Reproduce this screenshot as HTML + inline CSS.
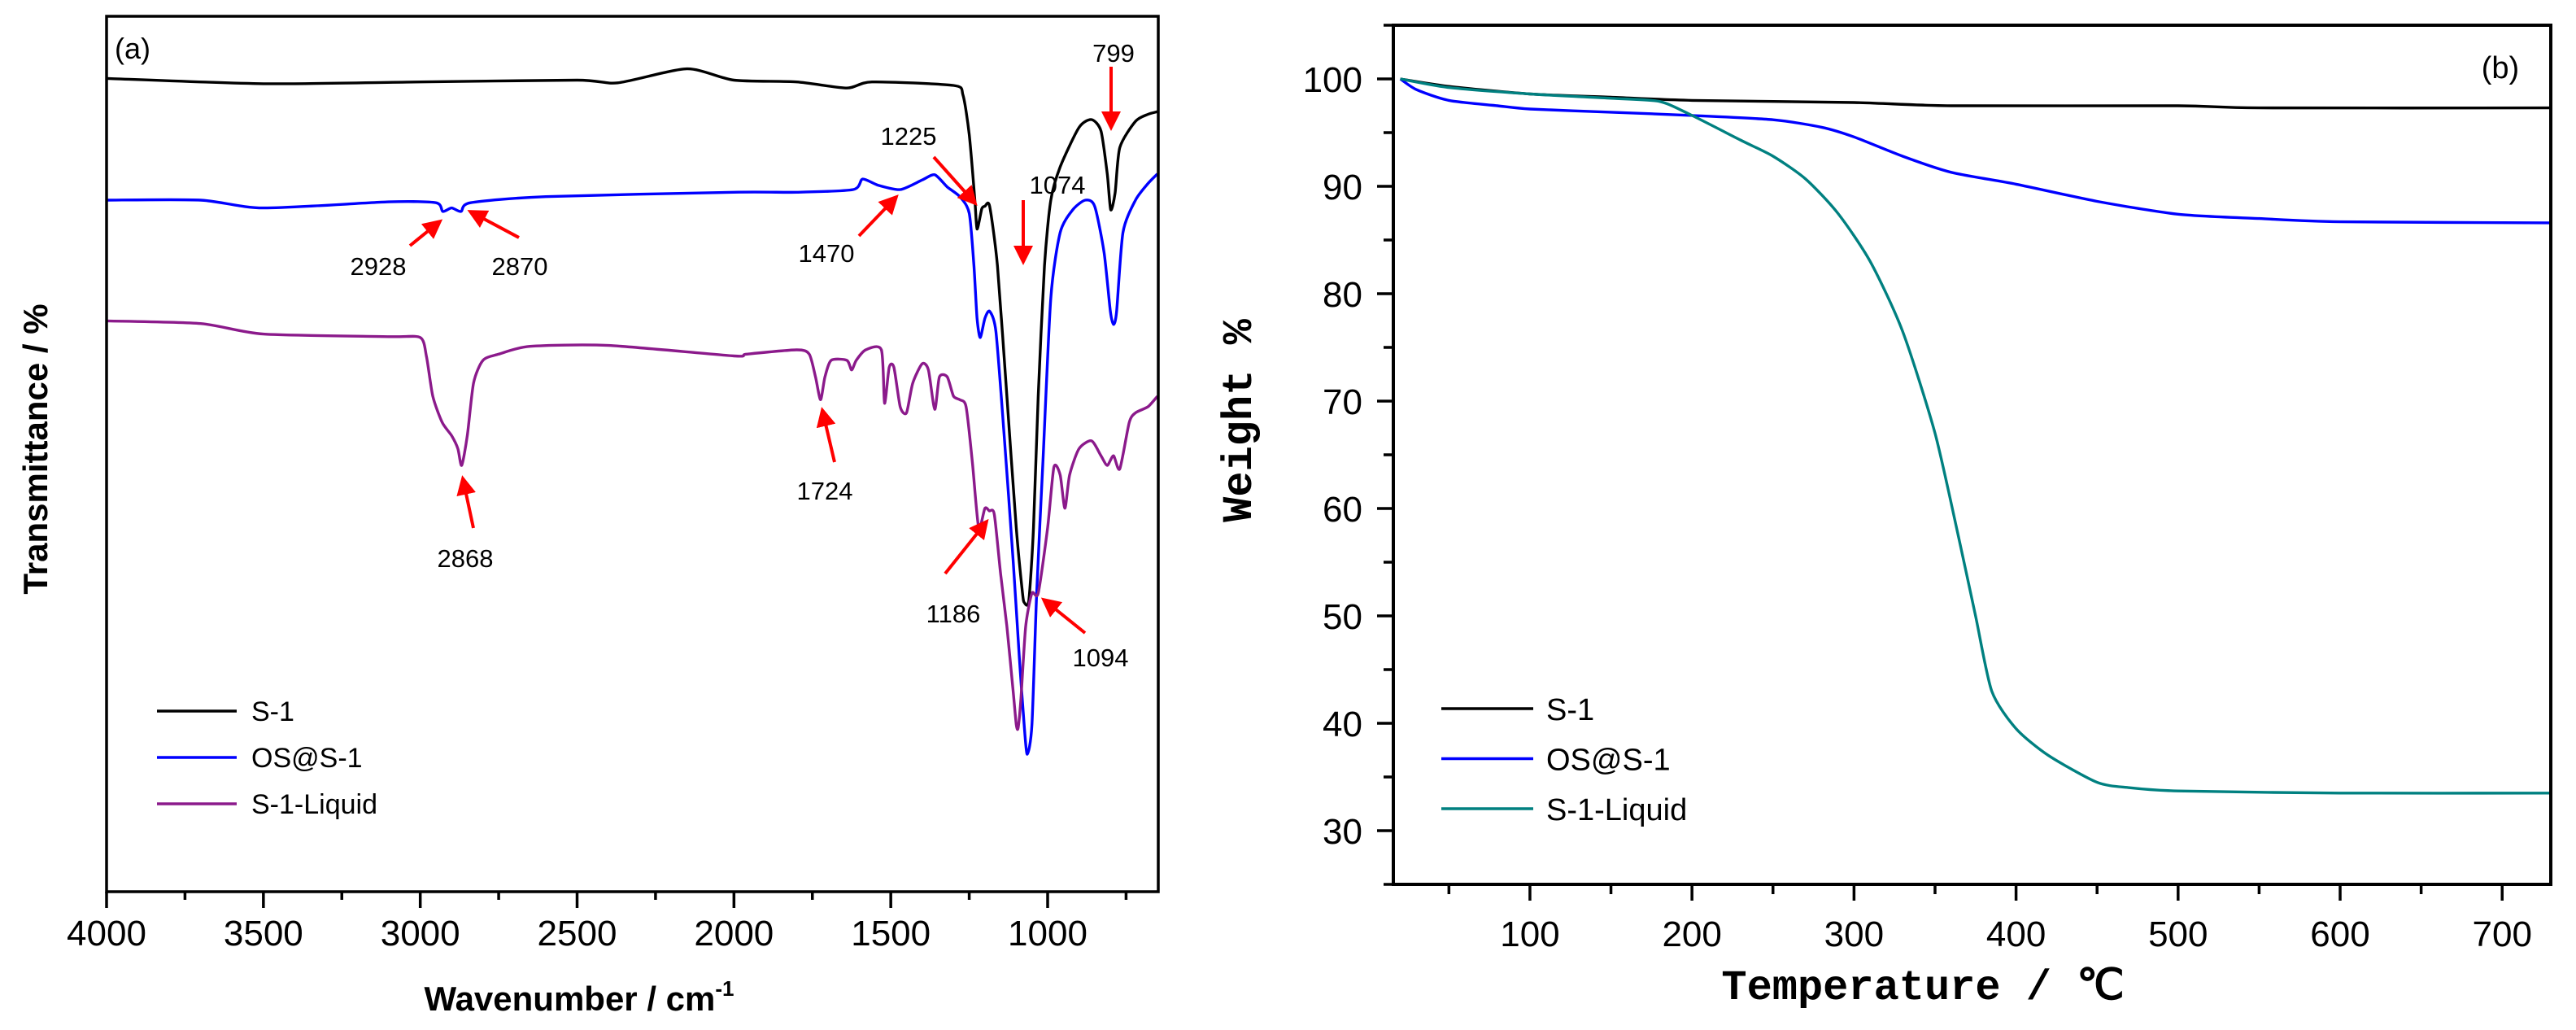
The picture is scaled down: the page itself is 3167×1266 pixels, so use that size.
<!DOCTYPE html>
<html><head><meta charset="utf-8">
<style>
html,body{margin:0;padding:0;background:#fff;}
svg{display:block;}
</style></head>
<body>
<svg id="fig" width="3167" height="1266" viewBox="0 0 3167 1266" xmlns="http://www.w3.org/2000/svg" font-family="Liberation Sans, sans-serif">
  <g id="panelA"></g>
  <g id="panelB"></g>
</svg>
<script>
// ---------- Panel (a) FTIR data ----------
const ftirS1X = [4000,3500,3000,2500,2370,2150,2000,1800,1640,1560,1300,1270,1250,1232,1225,1210,1200,1185,1160,1130,1100,1080,1074,1060,1045,1030,1010,990,960,900,860,830,810,799,785,770,720,680,650];
const ftirS1Y = [92.9,92.3,92.5,92.7,92.4,94.0,92.7,92.5,91.8,92.5,92.1,91.0,86.5,79.0,75.7,78.0,78.3,78.3,71.5,56.6,41.6,34.1,33.0,33.3,41.6,56.6,71.5,79.0,82.8,87.3,88.2,86.9,82.0,77.9,79.8,85.0,88.0,88.8,89.1];
const ftirOSX = [4000,3700,3500,3100,2950,2928,2900,2870,2840,2600,2000,1800,1620,1590,1540,1470,1400,1360,1320,1280,1250,1235,1225,1215,1200,1185,1165,1140,1110,1090,1075,1065,1050,1035,1015,990,960,920,880,850,820,800,790,780,760,720,680,650];
const ftirOSY = [79.0,79.0,78.1,78.8,78.7,77.7,78.1,77.7,78.7,79.4,79.9,79.9,80.2,81.4,80.7,80.2,81.3,81.9,80.5,79.4,77.5,71.5,65.5,63.3,65.5,66.3,64.0,52.8,37.8,26.6,19.1,15.7,19.1,34.1,49.1,67.8,75.3,77.9,79.0,78.3,73.0,66.3,64.8,66.3,75.3,79.0,80.9,82.0];
const ftirLqX = [4000,3700,3500,3100,3000,2980,2960,2930,2900,2880,2868,2850,2830,2800,2750,2650,2400,2000,1960,1800,1760,1740,1724,1710,1690,1640,1625,1610,1580,1530,1520,1505,1490,1470,1450,1430,1400,1380,1360,1345,1320,1300,1280,1260,1240,1220,1200,1186,1170,1150,1130,1110,1100,1094,1085,1070,1050,1030,1000,980,960,945,930,900,860,830,810,790,770,740,720,680,650];
const ftirLqY = [65.2,64.9,63.7,63.4,63.3,61.1,56.6,53.6,52.1,50.6,48.7,52.1,58.1,60.7,61.4,62.3,62.4,61.2,61.4,61.9,61.4,58.8,56.2,58.8,60.7,60.7,59.6,60.7,61.9,61.9,55.8,59.9,59.9,55.4,54.7,58.1,60.3,59.6,55.1,58.8,58.8,56.6,56.2,55.4,49.1,41.6,43.8,43.5,43.1,36.3,30.3,22.9,19.1,18.7,22.1,30.3,34.1,34.1,41.6,48.5,47.6,43.8,47.6,50.6,51.5,49.8,48.7,49.8,48.3,53.6,54.7,55.4,56.6];
const ftirXTicks = [4000,3500,3000,2500,2000,1500,1000];
const ftirXMinor = [3750,3250,2750,2250,1750,1250,750];
const ftirAnnot = ["799","1225","1074","1470","2928","2870","2868","1724","1186","1094"];

// ---------- Panel (b) TGA data ----------
const tgaS1X = [20,50,100,150,200,300,360,500,550,730];
const tgaS1Y = [100,99.3,98.6,98.3,98.0,97.8,97.5,97.5,97.3,97.3];
const tgaOSX = [20,30,50,80,100,150,200,250,280,300,330,360,400,450,500,550,600,730];
const tgaOSY = [100,99.0,98.0,97.5,97.2,96.9,96.6,96.2,95.5,94.6,92.8,91.3,90.2,88.6,87.4,87.0,86.7,86.6];
const tgaLqX = [20,50,100,150,180,200,230,250,270,290,310,330,350,365,375,385,400,420,450,470,500,600,730];
const tgaLqY = [100,99.2,98.6,98.2,97.9,96.6,94.3,92.8,90.7,87.5,83,76.5,67,57,50,43,39.5,37,34.5,34,33.7,33.5,33.5];
const tgaXTicks = [100,200,300,400,500,600,700];
const tgaXMinor = [50,150,250,350,450,550,650];
const tgaYTicks = [30,40,50,60,70,80,90,100];
const tgaYMinor = [25,35,45,55,65,75,85,95,105];

const NS = "http://www.w3.org/2000/svg";
function el(parent, tag, attrs, txt){
  const e = document.createElementNS(NS, tag);
  for (const k in attrs) e.setAttribute(k, attrs[k]);
  if (txt !== undefined) e.textContent = txt;
  parent.appendChild(e);
  return e;
}
function poly(parent, xs, ys, fx, fy, color, name){
  const P = xs.map((x,i)=>[fx(x), fy(ys[i])]);
  let d = "M" + P[0][0].toFixed(1) + "," + P[0][1].toFixed(1);
  for (let i=0;i<P.length-1;i++){
    const p0 = P[Math.max(i-1,0)], p1 = P[i], p2 = P[i+1], p3 = P[Math.min(i+2,P.length-1)];
    const t = 0.12;
    const c1 = [p1[0]+(p2[0]-p0[0])*t, p1[1]+(p2[1]-p0[1])*t];
    const c2 = [p2[0]-(p3[0]-p1[0])*t, p2[1]-(p3[1]-p1[1])*t];
    d += "C"+c1[0].toFixed(1)+","+c1[1].toFixed(1)+" "+c2[0].toFixed(1)+","+c2[1].toFixed(1)+" "+p2[0].toFixed(1)+","+p2[1].toFixed(1);
  }
  const p = el(parent, "path", {d:d, fill:"none", stroke:color, "stroke-width":3.4, "stroke-linejoin":"round"});
  
  
  return p;
}

// ===== Panel A =====
const A = document.getElementById("panelA");
const aL=131, aR=1424, aT=20, aB=1096;
const ax = w => aL + (4000 - w) * (1288 - aL) / 3000;
const ay = t => aB - t * (aB - aT) / 100;

poly(A, ftirS1X, ftirS1Y, ax, ay, "#000", "s1-ftir-line");
poly(A, ftirOSX, ftirOSY, ax, ay, "#0000ff", "os-s1-ftir-line");
poly(A, ftirLqX, ftirLqY, ax, ay, "#8b1a8b", "s1-liquid-ftir-line");

let fr = el(A, "rect", {x:aL, y:aT, width:aR-aL, height:aB-aT, fill:"none", stroke:"#000", "stroke-width":3.5});



ftirXTicks.forEach(v=>{
  const x = ax(v);
  el(A,"line",{x1:x,y1:aB,x2:x,y2:aB+20,stroke:"#000","stroke-width":3.5});
  const t = el(A,"text",{x:x,y:1162,"font-size":44,"text-anchor":"middle"}, String(v));
  
  
});
ftirXMinor.forEach(v=>{
  const x = ax(v);
  el(A,"line",{x1:x,y1:aB,x2:x,y2:aB+10,stroke:"#000","stroke-width":3.5});
});

const annPos = [
  [1369,76, 1366,82,1366,157],
  [1117,178, 1148,193,1199,250],
  [1300,238, 1258,246,1258,322],
  [1016,322, 1056,290,1102,242],
  [465,338, 504,302,541,272],
  [639,338, 638,292,578,260],
  [572,697, 582,649,569,588],
  [1014,614, 1026,568,1011,504],
  [1172,765, 1162,705,1213,641],
  [1353,819, 1334,778,1283,737]
];
const defs = el(document.getElementById("fig"), "defs", {});
const mk = el(defs, "marker", {id:"ah", markerWidth:6, markerHeight:6, refX:5, refY:3, orient:"auto", markerUnits:"strokeWidth"});
el(mk, "path", {d:"M0,0 L6,3 L0,6 Z", fill:"#ff0000"});
ftirAnnot.forEach((lab,i)=>{
  const p = annPos[i];
  const t = el(A,"text",{x:p[0],y:p[1],"font-size":31,"text-anchor":"middle"}, lab);
  
  
  const l = el(A,"line",{x1:p[2],y1:p[3],x2:p[4],y2:p[5],stroke:"#ff0000","stroke-width":4,"marker-end":"url(#ah)"});
  
  
});

let ta = el(A,"text",{x:141,y:72,"font-size":36}, "(a)");



const legA = [["S-1","#000"],["OS@S-1","#0000ff"],["S-1-Liquid","#8b1a8b"]];
legA.forEach((e,i)=>{
  const y = 874 + i*57;
  const g = el(A,"g",{});
  
  
  el(g,"line",{x1:193,y1:y,x2:291,y2:y,stroke:e[1],"stroke-width":3.5});
  el(g,"text",{x:309,y:y+12,"font-size":34}, e[0]);
});

let xta = el(A,"text",{x:712,y:1242,"font-size":42,"font-weight":"bold","text-anchor":"middle"});


xta.innerHTML = 'Wavenumber / cm<tspan dy="-18" font-size="26">-1</tspan>';
let yta = el(A,"text",{x:0,y:0,"font-size":42,"font-weight":"bold","text-anchor":"middle",transform:"translate(58,552) rotate(-90)"}, "Transmittance / %");



// ===== Panel B =====
const B = document.getElementById("panelB");
const bL=1713, bR=3136, bT=31, bB=1087;
const bx = t => bL + (t - 15.7) * (bR - bL) / (730 - 15.7);
const by = w => bB - (w - 25) * (bB - bT) / 80;

poly(B, tgaS1X, tgaS1Y, bx, by, "#000", "s1-tga-line");
poly(B, tgaOSX, tgaOSY, bx, by, "#0000ff", "os-s1-tga-line");
poly(B, tgaLqX, tgaLqY, bx, by, "#008080", "s1-liquid-tga-line");

let frb = el(B, "rect", {x:bL, y:bT, width:bR-bL, height:bB-bT, fill:"none", stroke:"#000", "stroke-width":4});



tgaXTicks.forEach(v=>{
  const x = bx(v);
  el(B,"line",{x1:x,y1:bB,x2:x,y2:bB+20,stroke:"#000","stroke-width":3.5});
  const t = el(B,"text",{x:x,y:1163,"font-size":44,"text-anchor":"middle"}, String(v));
  
  
});
tgaXMinor.forEach(v=>{
  const x = bx(v);
  el(B,"line",{x1:x,y1:bB,x2:x,y2:bB+12,stroke:"#000","stroke-width":3.5});
});
tgaYTicks.forEach(v=>{
  const y = by(v);
  el(B,"line",{x1:bL-20,y1:y,x2:bL,y2:y,stroke:"#000","stroke-width":3.5});
  const t = el(B,"text",{x:1675,y:y+16,"font-size":44,"text-anchor":"end"}, String(v));
  
  
});
tgaYMinor.forEach(v=>{
  const y = by(v);
  el(B,"line",{x1:bL-12,y1:y,x2:bL,y2:y,stroke:"#000","stroke-width":3.5});
});

let tb = el(B,"text",{x:3074,y:96,"font-size":38,"text-anchor":"middle"}, "(b)");



const legB = [["S-1","#000"],["OS@S-1","#0000ff"],["S-1-Liquid","#008080"]];
legB.forEach((e,i)=>{
  const y = 871 + i*61.5;
  const g = el(B,"g",{});
  
  
  el(g,"line",{x1:1772,y1:y,x2:1885,y2:y,stroke:e[1],"stroke-width":3.5});
  el(g,"text",{x:1901,y:y+14,"font-size":38}, e[0]);
});

let xtb = el(B,"text",{x:2364,y:1228,"font-size":52,"font-weight":"bold","text-anchor":"middle","font-family":"Liberation Mono, monospace"}, "Temperature / ℃");


let ytb = el(B,"text",{x:0,y:0,"font-size":52,"font-weight":"bold","text-anchor":"middle","font-family":"Liberation Mono, monospace",transform:"translate(1538,517) rotate(-90)"}, "Weight %");


</script>
</body></html>
